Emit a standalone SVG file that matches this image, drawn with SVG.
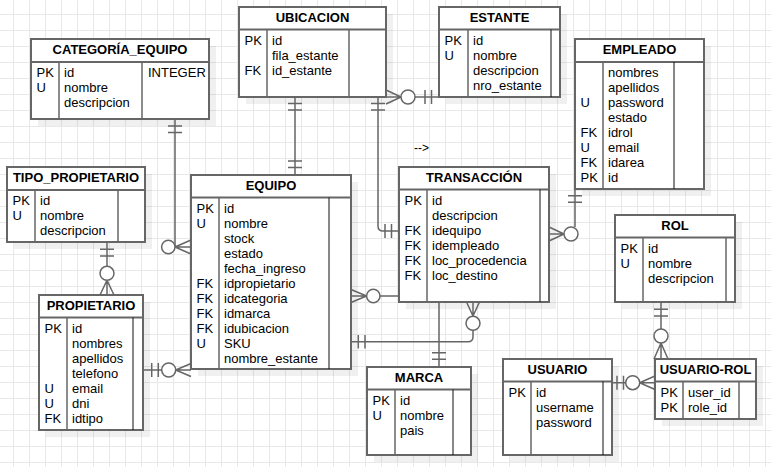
<svg xmlns="http://www.w3.org/2000/svg" width="771" height="467" viewBox="0 0 771 467">
<defs>
<pattern id="grid" x="13" y="14" width="16" height="16" patternUnits="userSpaceOnUse">
<path d="M0.5,0 V16 M0,0.5 H16" fill="none" stroke="#e8e8e8" stroke-width="1"/>
</pattern>
<style>
.sh{fill:#000;fill-opacity:0.06}
.t{fill:#fff;stroke:#666;stroke-width:2}
.hl{stroke:#666;stroke-width:2}
.dv{stroke:#666;stroke-width:1.5}
.dv2{stroke:#111;stroke-width:1}
.h{font-family:"Liberation Sans",Arial,Helvetica,sans-serif;font-size:13px;font-weight:bold;text-anchor:middle;fill:#000}
.f{font-family:"Liberation Sans",Arial,Helvetica,sans-serif;font-size:13px;fill:#000}
.c{fill:none;stroke:#666;stroke-width:1.5}
.o{fill:#fff;stroke:#666;stroke-width:1.5}
</style>
</defs>
<rect width="771" height="467" fill="#fff"/>
<rect width="771" height="467" fill="url(#grid)"/>

<g id="categoria_equipo">
<rect class="sh" x="38" y="46" width="178" height="80"/>
<rect class="t" x="31" y="39" width="178" height="80"/>
<line class="hl" x1="31" y1="62" x2="209" y2="62"/>
<line class="dv" x1="59" y1="62" x2="59" y2="119"/>
<line class="dv" x1="142" y1="62" x2="142" y2="119"/>
<text class="h" x="120" y="54">CATEGORÍA_EQUIPO</text>
<text class="f"><tspan x="36.5" y="76.5">PK</tspan><tspan x="36.5" y="91.5">U</tspan></text>
<text class="f"><tspan x="64" y="76.5">id</tspan><tspan x="64" y="91.5">nombre</tspan><tspan x="64" y="106.5">descripcion</tspan></text>
<text class="f" x="148" y="76.5">INTEGER</text>
</g>

<g id="ubicacion">
<rect class="sh" x="246" y="14" width="147" height="90"/>
<rect class="t" x="239" y="7" width="147" height="90"/>
<line class="hl" x1="239" y1="29.5" x2="386" y2="29.5"/>
<line class="dv" x1="267" y1="29.5" x2="267" y2="97"/>
<line class="dv" x1="349" y1="29.5" x2="349" y2="97"/>
<text class="h" x="312.5" y="22">UBICACION</text>
<text class="f"><tspan x="244.5" y="44.5">PK</tspan><tspan x="244.5" y="74.5">FK</tspan></text>
<text class="f"><tspan x="272" y="44.5">id</tspan><tspan x="272" y="59.5">fila_estante</tspan><tspan x="272" y="74.5">id_estante</tspan></text>
</g>

<g id="estante">
<rect class="sh" x="446" y="14" width="121" height="90"/>
<rect class="t" x="439" y="7" width="121" height="90"/>
<line class="hl" x1="439" y1="29.5" x2="560" y2="29.5"/>
<line class="dv" x1="468" y1="29.5" x2="468" y2="97"/>
<line class="dv2" x1="551" y1="29.5" x2="551" y2="97"/>
<text class="h" x="499.5" y="22">ESTANTE</text>
<text class="f"><tspan x="444.5" y="44.5">PK</tspan><tspan x="444.5" y="59.5">U</tspan></text>
<text class="f"><tspan x="473" y="44.5">id</tspan><tspan x="473" y="59.5">nombre</tspan><tspan x="473" y="74.5">descripcion</tspan><tspan x="473" y="89.5">nro_estante</tspan></text>
</g>

<g id="empleado">
<rect class="sh" x="582" y="46" width="129" height="150"/>
<rect class="t" x="575" y="39" width="129" height="150"/>
<line class="hl" x1="575" y1="62" x2="704" y2="62"/>
<line class="dv" x1="603" y1="62" x2="603" y2="189"/>
<line class="dv2" x1="674" y1="62" x2="674" y2="189"/>
<text class="h" x="639.5" y="54">EMPLEADO</text>
<text class="f"><tspan x="580.5" y="106.5">U</tspan><tspan x="580.5" y="136.5">FK</tspan><tspan x="580.5" y="151.5">U</tspan><tspan x="580.5" y="166.5">FK</tspan><tspan x="580.5" y="181.5">PK</tspan></text>
<text class="f"><tspan x="608" y="76.5">nombres</tspan><tspan x="608" y="91.5">apellidos</tspan><tspan x="608" y="106.5">password</tspan><tspan x="608" y="121.5">estado</tspan><tspan x="608" y="136.5">idrol</tspan><tspan x="608" y="151.5">email</tspan><tspan x="608" y="166.5">idarea</tspan><tspan x="608" y="181.5">id</tspan></text>
</g>

<g id="tipo_propietario">
<rect class="sh" x="14" y="174" width="138" height="75"/>
<rect class="t" x="7" y="167" width="138" height="75"/>
<line class="hl" x1="7" y1="190" x2="145" y2="190"/>
<line class="dv" x1="35" y1="190" x2="35" y2="242"/>
<line class="dv" x1="118" y1="190" x2="118" y2="242"/>
<text class="h" x="76" y="182">TIPO_PROPIETARIO</text>
<text class="f"><tspan x="12.5" y="204.5">PK</tspan><tspan x="12.5" y="219.5">U</tspan></text>
<text class="f"><tspan x="40" y="204.5">id</tspan><tspan x="40" y="219.5">nombre</tspan><tspan x="40" y="234.5">descripcion</tspan></text>
</g>

<g id="equipo">
<rect class="sh" x="198" y="182" width="160" height="194"/>
<rect class="t" x="191" y="175" width="160" height="194"/>
<line class="hl" x1="191" y1="197.5" x2="351" y2="197.5"/>
<line class="dv" x1="219" y1="197.5" x2="219" y2="369"/>
<line class="dv2" x1="329" y1="197.5" x2="329" y2="369"/>
<text class="h" x="271" y="190">EQUIPO</text>
<text class="f"><tspan x="196.5" y="212.5">PK</tspan><tspan x="196.5" y="227.5">U</tspan><tspan x="196.5" y="287.5">FK</tspan><tspan x="196.5" y="302.5">FK</tspan><tspan x="196.5" y="317.5">FK</tspan><tspan x="196.5" y="332.5">FK</tspan><tspan x="196.5" y="347.5">U</tspan></text>
<text class="f"><tspan x="224" y="212.5">id</tspan><tspan x="224" y="227.5">nombre</tspan><tspan x="224" y="242.5">stock</tspan><tspan x="224" y="257.5">estado</tspan><tspan x="224" y="272.5">fecha_ingreso</tspan><tspan x="224" y="287.5">idpropietario</tspan><tspan x="224" y="302.5">idcategoria</tspan><tspan x="224" y="317.5">idmarca</tspan><tspan x="224" y="332.5">idubicacion</tspan><tspan x="224" y="347.5">SKU</tspan><tspan x="224" y="362.5">nombre_estante</tspan></text>
</g>

<g id="transaccion">
<rect class="sh" x="406" y="174" width="150" height="135"/>
<rect class="t" x="399" y="167" width="150" height="135"/>
<line class="hl" x1="399" y1="189.5" x2="549" y2="189.5"/>
<line class="dv" x1="427" y1="189.5" x2="427" y2="302"/>
<line class="dv2" x1="540" y1="189.5" x2="540" y2="302"/>
<text class="h" x="474" y="182">TRANSACCIÓN</text>
<text class="f"><tspan x="404.5" y="204.5">PK</tspan><tspan x="404.5" y="234.5">FK</tspan><tspan x="404.5" y="249.5">FK</tspan><tspan x="404.5" y="264.5">FK</tspan><tspan x="404.5" y="279.5">FK</tspan></text>
<text class="f"><tspan x="432" y="204.5">id</tspan><tspan x="432" y="219.5">descripcion</tspan><tspan x="432" y="234.5">idequipo</tspan><tspan x="432" y="249.5">idempleado</tspan><tspan x="432" y="264.5">loc_procedencia</tspan><tspan x="432" y="279.5">loc_destino</tspan></text>
</g>

<g id="propietario">
<rect class="sh" x="46" y="302" width="104" height="135"/>
<rect class="t" x="39" y="295" width="104" height="135"/>
<line class="hl" x1="39" y1="317.5" x2="143" y2="317.5"/>
<line class="dv" x1="67" y1="317.5" x2="67" y2="430"/>
<line class="dv2" x1="133" y1="317.5" x2="133" y2="430"/>
<text class="h" x="91" y="310">PROPIETARIO</text>
<text class="f"><tspan x="44.5" y="332.5">PK</tspan><tspan x="44.5" y="392.5">U</tspan><tspan x="44.5" y="407.5">U</tspan><tspan x="44.5" y="422.5">FK</tspan></text>
<text class="f"><tspan x="72" y="332.5">id</tspan><tspan x="72" y="347.5">nombres</tspan><tspan x="72" y="362.5">apellidos</tspan><tspan x="72" y="377.5">telefono</tspan><tspan x="72" y="392.5">email</tspan><tspan x="72" y="407.5">dni</tspan><tspan x="72" y="422.5">idtipo</tspan></text>
</g>

<g id="marca">
<rect class="sh" x="374" y="374" width="104" height="88"/>
<rect class="t" x="367" y="367" width="104" height="88"/>
<line class="hl" x1="367" y1="389.5" x2="471" y2="389.5"/>
<line class="dv" x1="395" y1="389.5" x2="395" y2="455"/>
<line class="dv2" x1="453" y1="389.5" x2="453" y2="455"/>
<text class="h" x="419" y="382">MARCA</text>
<text class="f"><tspan x="372.5" y="404.5">PK</tspan><tspan x="372.5" y="419.5">U</tspan></text>
<text class="f"><tspan x="400" y="404.5">id</tspan><tspan x="400" y="419.5">nombre</tspan><tspan x="400" y="434.5">pais</tspan></text>
</g>

<g id="usuario">
<rect class="sh" x="510" y="366" width="109" height="96"/>
<rect class="t" x="503" y="359" width="109" height="96"/>
<line class="hl" x1="503" y1="381.5" x2="612" y2="381.5"/>
<line class="dv" x1="531" y1="381.5" x2="531" y2="455"/>
<line class="dv2" x1="603" y1="381.5" x2="603" y2="455"/>
<text class="h" x="557.5" y="374">USUARIO</text>
<text class="f" x="508.5" y="396.5">PK</text>
<text class="f"><tspan x="536" y="396.5">id</tspan><tspan x="536" y="411.5">username</tspan><tspan x="536" y="426.5">password</tspan></text>
</g>

<g id="rol">
<rect class="sh" x="622" y="222" width="120" height="87"/>
<rect class="t" x="615" y="215" width="120" height="87"/>
<line class="hl" x1="615" y1="237.5" x2="735" y2="237.5"/>
<line class="dv" x1="643" y1="237.5" x2="643" y2="302"/>
<line class="dv" x1="726" y1="237.5" x2="726" y2="302"/>
<text class="h" x="675" y="230">ROL</text>
<text class="f"><tspan x="620.5" y="252.5">PK</tspan><tspan x="620.5" y="267.5">U</tspan></text>
<text class="f"><tspan x="648" y="252.5">id</tspan><tspan x="648" y="267.5">nombre</tspan><tspan x="648" y="282.5">descripcion</tspan></text>
</g>

<g id="usuario_rol">
<rect class="sh" x="662" y="366" width="101" height="60"/>
<rect class="t" x="655" y="359" width="101" height="60"/>
<line class="hl" x1="655" y1="381.5" x2="756" y2="381.5"/>
<line class="dv" x1="683" y1="381.5" x2="683" y2="419"/>
<line class="dv" x1="739" y1="381.5" x2="739" y2="419"/>
<text class="h" x="705.5" y="374">USUARIO-ROL</text>
<text class="f"><tspan x="660.5" y="396.5">PK</tspan><tspan x="660.5" y="411.5">PK</tspan></text>
<text class="f"><tspan x="688" y="396.5">user_id</tspan><tspan x="688" y="411.5">role_id</tspan></text>
</g>

<g id="connectors">
<!-- CATEGORIA -> EQUIPO -->
<path class="c" d="M175,119 V247 H191 M168,126 H182 M168,132.5 H182 M175,247 L191,240 M175,247 L191,254"/>
<circle class="o" cx="168.3" cy="247" r="6.7"/>
<!-- UBICACION -> EQUIPO -->
<path class="c" d="M295,97 V175 M288,103.5 H302 M288,110 H302 M288,161 H302 M288,167.5 H302"/>
<!-- UBICACION -> ESTANTE -->
<path class="c" d="M386,97 H439 M401,97 L386,90 M401,97 L386,104 M425,90 V104 M431.5,90 V104"/>
<circle class="o" cx="408" cy="97" r="7"/>
<!-- UBICACION -> TRANSACCION -->
<path class="c" d="M378,97 V226 Q378,231 383,231 H399 M371,103.5 H385 M371,110 H385 M385,224 V238 M391.5,224 V238"/>
<!-- EMPLEADO -> TRANSACCION -->
<path class="c" d="M575,189 V227 M564,234 H549 M564,234 L549,227 M564,234 L549,241 M568,195.7 H582 M568,202.3 H582"/>
<circle class="o" cx="571" cy="234" r="7"/>
<!-- EQUIPO -> TRANSACCION (lado) -->
<path class="c" d="M351,296 H399 M366.5,296 L351,289.5 M366.5,296 L351,302.5"/>
<circle class="o" cx="373.3" cy="296" r="6.7"/>
<!-- EQUIPO -> TRANSACCION (abajo) -->
<path class="c" d="M351,341.7 H468 Q473,341.7 473,336.7 V302 M473,316 L466.5,302 M473,316 L479.5,302 M358.3,335 V348.5 M365,335 V348.5"/>
<circle class="o" cx="473" cy="323.3" r="7"/>
<!-- TRANSACCION -> MARCA -->
<path class="c" d="M439,302 V367 M432,352.7 H446 M432,359.3 H446"/>
<!-- PROPIETARIO -> EQUIPO -->
<path class="c" d="M143,370 H191 M151.7,363 V377 M158.3,363 V377 M175.7,370 L191,363.5 M175.7,370 L191,376.5"/>
<circle class="o" cx="168.7" cy="370" r="7"/>
<!-- TIPO_PROPIETARIO -> PROPIETARIO -->
<path class="c" d="M107,242 V295 M100,249.3 H114 M100,256 H114 M107,280.3 L100,295 M107,280.3 L114,295"/>
<circle class="o" cx="107" cy="273.3" r="7"/>
<!-- ROL -> USUARIO-ROL -->
<path class="c" d="M661,302 V359 M654,309.3 H668 M654,316 H668 M661,343 L654,359 M661,343 L668,359"/>
<circle class="o" cx="661" cy="336" r="7"/>
<!-- USUARIO -> USUARIO-ROL -->
<path class="c" d="M612,382.7 H655 M617,375.7 V389.7 M623.5,375.7 V389.7 M639.7,382.7 L655,376 M639.7,382.7 L655,389.5"/>
<circle class="o" cx="632.7" cy="382.7" r="7"/>
</g>
<text class="f" x="414" y="151.5" style="font-size:12px">--&gt;</text>
</svg>
